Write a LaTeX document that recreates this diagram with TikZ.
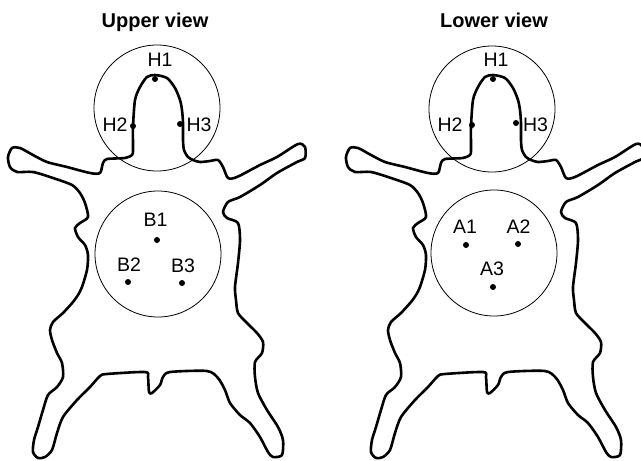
\documentclass[tikz,border=0pt]{standalone}
\usepackage{fontspec}
\setmainfont{Liberation Sans}
\tikzstyle{skin} = [line width=2.6pt, line join=round]
\tikzstyle{zone} = [circle, draw, line width=0.8pt, minimum size=126pt, inner sep=0pt]
\tikzstyle{dot} = [circle, fill, inner sep=0pt, minimum size=6pt]
\tikzstyle{tag} = [font=\fontsize{19.5}{22}\selectfont, inner sep=0pt]
\tikzstyle{heading} = [font=\bfseries\fontsize{20}{23}\selectfont, inner sep=0pt, anchor=base]
% outline of the animal, in pixel units
\newcommand{\skinpath}{%
  \draw[skin] plot[smooth cycle, tension=0.45] coordinates {
    (155,75) (167,78) (175,88) (180,100) (182,110) (183,123) (183,140) (184,150)
    (188,157) (193,160) (200,162) (210,161) (218,160) (223,167) (228,178) (237,177)
    (260,165) (277,157) (298,144) (305,147) (305,158) (297,162) (277,173) (260,185)
    (240,197) (228,202) (223,212) (227,218) (238,223) (240,240) (238,263) (235,287)
    (236,300) (238,313) (247,323) (257,333) (263,342) (262,353) (255,362) (255,377)
    (258,393) (267,410) (278,427) (283,440) (282,455) (273,457) (268,452) (260,437)
    (250,423) (240,415) (230,403) (225,390) (218,378) (207,371) (170,372) (163,377)
    (160,385) (152,393) (149,392) (148,377) (145,372) (107,374) (100,376) (90,387)
    (77,400) (63,417) (57,433) (52,450) (45,457) (38,458) (33,452) (34,440)
    (38,427) (43,410) (48,395) (57,387) (63,377) (62,363) (57,353) (52,340)
    (50,330) (53,322) (63,313) (73,302) (78,295) (82,287) (87,270) (88,255)
    (85,245) (78,237) (75,228) (80,223) (88,217) (85,203) (80,193) (72,185)
    (53,178) (33,172) (17,172) (10,167) (8,157) (12,148) (20,148) (33,155)
    (47,162) (67,167) (90,173) (100,173) (103,163) (107,159) (125,158) (132,155)
    (133,150) (133,127) (135,100) (140,87) (147,77)
  };
}

\begin{document}
\begin{tikzpicture}[x=1pt, y=-1pt]
    \useasboundingbox (0,0) rectangle (641,461);

    % upper view
    \skinpath
    \node[heading] (upper) at (155,27) {Upper view};
    \node[zone] (headU) at (157,108) {};
    \node[zone] (bodyU) at (158,254) {};
    \node[dot] (uh1) at (155,79) {};
    \node[dot] (uh2) at (133,126) {};
    \node[dot] (uh3) at (180,124) {};
    \node[dot] (b1) at (157,240) {};
    \node[dot] (b2) at (128,282) {};
    \node[dot] (b3) at (182,283) {};
    \node[tag] at (160,60) {H1};
    \node[tag] at (115,124.5) {H2};
    \node[tag] at (199,124.5) {H3};
    \node[tag] at (155.5,220) {B1};
    \node[tag] at (129,265) {B2};
    \node[tag] at (183,266) {B3};

    % lower view
    \begin{scope}[xshift=338pt]
        \skinpath
    \end{scope}
    \node[heading] (lower) at (494,27) {Lower view};
    \node[zone] (headL) at (492,109) {};
    \node[zone] (bodyL) at (494,253) {};
    \node[dot] (lh1) at (493,79) {};
    \node[dot] (lh2) at (472,125) {};
    \node[dot] (lh3) at (516,123) {};
    \node[dot] (a1) at (466,245) {};
    \node[dot] (a2) at (518,244) {};
    \node[dot] (a3) at (493,287) {};
    \node[tag] at (496,60) {H1};
    \node[tag] at (450,124.5) {H2};
    \node[tag] at (535.5,124.5) {H3};
    \node[tag] at (465,227) {A1};
    \node[tag] at (518.5,227) {A2};
    \node[tag] at (492,268.5) {A3};
\end{tikzpicture}
\end{document}
